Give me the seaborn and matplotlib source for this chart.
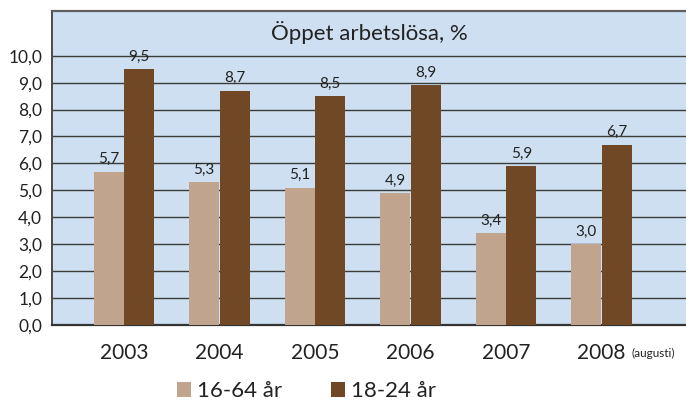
import pandas as pd
import seaborn as sns
from matplotlib import pyplot as plt
from matplotlib.patches import Patch

# data
years = ['2003', '2004', '2005', '2006', '2007', '2008']
age_16_64 = [5.7, 5.3, 5.1, 4.9, 3.4, 3.0]
age_18_24 = [9.5, 8.7, 8.5, 8.9, 5.9, 6.7]
groups = ['16-64 år', '18-24 år']
yticks = [0, 1, 2, 3, 4, 5, 6, 7, 8, 9, 10]

colors = ['#c0a48e', '#714826']
bg = '#cddff0'

df = pd.DataFrame({
    'year': years * 2,
    'value': age_16_64 + age_18_24,
    'group': [groups[0]] * len(years) + [groups[1]] * len(years),
})

sns.set_theme(style='white')
plt.rcParams['font.family'] = ['Lato', 'DejaVu Sans']

fig = plt.figure(figsize=(6.86, 4.01), dpi=100)
ax = fig.add_axes([52 / 686, 1 - 325 / 401, 1 - 52 / 686, (325 - 11) / 401])
ax.set_facecolor(bg)

sns.barplot(data=df, x='year', y='value', hue='group', palette=colors,
            width=0.64, gap=0.03, saturation=1, legend=False, ax=ax,
            linewidth=0, edgecolor='none', zorder=3)

# value labels with decimal comma
for cont, vals in zip(ax.containers, [age_16_64, age_18_24]):
    ax.bar_label(cont, labels=[f'{v:.1f}'.replace('.', ',') for v in vals],
                 padding=4, fontsize=11, color='#222222')

ax.set_xlim(-0.754, 5.885)
ax.set_ylim(0, 11.66)
ax.set_yticks(yticks)
ax.set_yticklabels([f'{v:.1f}'.replace('.', ',') for v in yticks], fontsize=12.5, color='#222222')
ax.set_xticks(range(len(years)))
ax.set_xticklabels(years, fontsize=15, color='#222222')
ax.tick_params(axis='y', length=0, pad=7)
ax.tick_params(axis='x', length=0, pad=13)
ax.set_xlabel('')
ax.set_ylabel('')

ax.yaxis.grid(True, color='#3c3c3c', linewidth=1.0, zorder=1)
ax.set_axisbelow(True)

ax.spines['right'].set_visible(False)
ax.spines['top'].set_color('#5f5f5f')
ax.spines['top'].set_linewidth(1.6)
ax.spines['left'].set_color('#4a4a4a')
ax.spines['left'].set_linewidth(1.4)
ax.spines['bottom'].set_color('#333333')
ax.spines['bottom'].set_linewidth(1.6)

ax.text(0.5, 10.88, 'Öppet arbetslösa, %', transform=ax.get_yaxis_transform(),
        ha='center', va='center', fontsize=16, color='#222222')

fig.text(631 / 686, 1 - 353 / 401, '(augusti)', ha='left', va='center',
         fontsize=8.5, color='#222222')

handles = [Patch(facecolor=c, edgecolor='none') for c in colors]
fig.legend(handles, groups, loc='center left', bbox_to_anchor=(177 / 686, 1 - 391 / 401),
           ncol=2, frameon=False, fontsize=16, handlelength=0.65, handleheight=0.65,
           handletextpad=0.25, columnspacing=2.2, borderpad=0, borderaxespad=0,
           labelcolor='#222222')

fig.savefig('out.png', dpi=100, facecolor='white')
